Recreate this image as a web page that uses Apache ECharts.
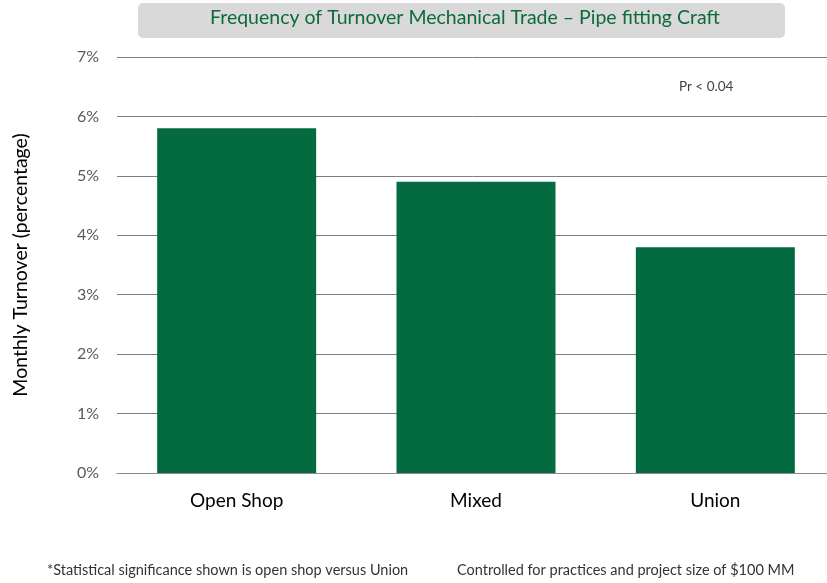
<!DOCTYPE html>
<html>
<head>
<meta charset="utf-8">
<script src="https://cdn.jsdelivr.net/npm/echarts@6/dist/echarts.min.js"></script>
<style>
  html, body { margin: 0; padding: 0; background: #fff; }
  #chart { width: 827px; height: 583px; }
</style>
</head>
<body>
<div id="chart"></div>
<script>
// chart data
const categories = ['Open Shop', 'Mixed', 'Union'];
const turnover = [5.8, 4.9, 3.8];   // monthly turnover, %
const yTicks = [0, 1, 2, 3, 4, 5, 6, 7];

const titleText = 'Frequency of Turnover Mechanical Trade \u2013 Pipe fitting Craft';
const noteLeft = '*Statistical significance shown is open shop versus Union';
const noteRight = 'Controlled for practices and project size of $100 MM';
const pValue = 'Pr < 0.04';

const font = 'Lato, "Noto Sans", sans-serif';
const green = '#036b3f';

const myChart = echarts.init(document.getElementById('chart'), null, { renderer: 'canvas' });

const option = {
  animation: false,
  backgroundColor: '#fff',
  textStyle: { fontFamily: font },
  grid: {
    left: 117,
    top: 57,
    width: 718,
    bottom: 110,
    containLabel: false,
    outerBoundsMode: 'none'
  },
  xAxis: {
    type: 'category',
    data: categories,
    axisLine: { show: true, lineStyle: { color: '#8c8c8c', width: 1 } },
    axisTick: { show: false },
    axisLabel: { color: '#000', fontSize: 19, margin: 18, fontFamily: font }
  },
  yAxis: {
    type: 'value',
    min: yTicks[0],
    max: yTicks[yTicks.length - 1],
    interval: 1,
    name: 'Monthly Turnover (percentage)',
    nameLocation: 'middle',
    nameRotate: 90,
    nameGap: 86,
    nameTextStyle: { color: '#000', fontSize: 19.5, fontFamily: font },
    axisLine: { show: false },
    axisTick: { show: false },
    axisLabel: {
      color: '#595959',
      fontSize: 16,
      margin: 18,
      formatter: v => v + '%'
    },
    splitLine: { lineStyle: { color: '#7f7f7f', width: 1 } }
  },
  series: [{
    type: 'bar',
    data: turnover,
    barWidth: 159,
    itemStyle: { color: green },
    silent: true
  }],
  graphic: [
    {
      type: 'rect',
      left: 138,
      top: 3,
      shape: { width: 647, height: 35, r: 5 },
      style: { fill: '#d9d9d9' }
    },
    {
      type: 'text',
      left: 210,
      top: 8,
      style: {
        text: titleText,
        fill: '#0b6b3a',
        font: '19.5px ' + font
      }
    },
    {
      type: 'text',
      left: 679,
      top: 80,
      style: { text: pValue, fill: '#404040', font: '13.5px ' + font }
    },
    {
      type: 'text',
      left: 47,
      top: 563,
      style: { text: noteLeft, fill: '#333', font: '14.5px ' + font }
    },
    {
      type: 'text',
      left: 457,
      top: 563,
      style: { text: noteRight, fill: '#333', font: '14.5px ' + font }
    }
  ]
};

myChart.setOption(option);
</script>
</body>
</html>
